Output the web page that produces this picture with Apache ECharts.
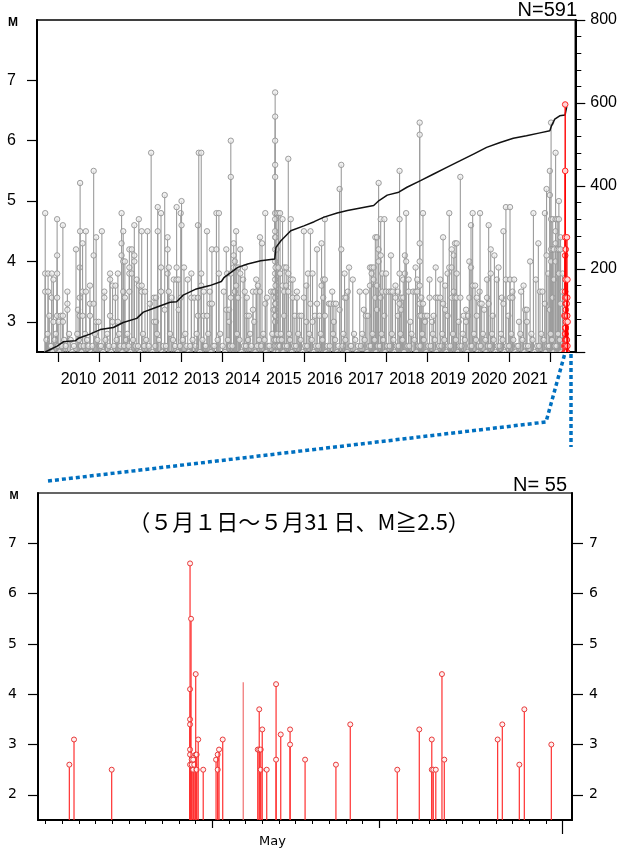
<!DOCTYPE html>
<html>
<head>
<meta charset="utf-8">
<script src="https://cdn.jsdelivr.net/npm/echarts@6/dist/echarts.min.js"></script>
<style>
  html, body { margin: 0; padding: 0; background: #fff; }
  #main { width: 620px; height: 850px; }
</style>
</head>
<body>
<div id="main"></div>
<script>
// ---- axis ticks / labels ----
var yearTicks = [2010, 2011, 2012, 2013, 2014, 2015, 2016, 2017, 2018, 2019, 2020, 2021, 2022];
var yearLabelPos = [2010.5, 2011.5, 2012.5, 2013.5, 2014.5, 2015.5, 2016.5, 2017.5, 2018.5, 2019.5, 2020.5, 2021.5];
var mTicksTop = [3, 4, 5, 6, 7];
var mTicksMay = [2, 3, 4, 5, 6, 7];
var dayMinorTicks = [1, 2, 3, 4, 5, 6, 7, 8, 9, 10, 12, 13, 14, 15, 16, 17, 18, 19, 20, 22, 23, 24, 25, 26, 27, 28, 29, 30, 31];
var dayMajorTicks = [11, 21];
var dayEndTick = [32];
var mayLabelPos = [14.6];

// ---- top chart: stems [decimal year, M, M, ...] (several events at the same time) ----
var stems2009_2013 = [
  [2009.69, 4.8, 3.8, 3.5], [2009.76, 3.8, 3.5], [2009.79, 3.1], [2009.85, 3.8, 3.4], [2009.89, 3.7, 3.0],
  [2009.98, 4.7, 4.1, 3.8, 3.4, 3.1], [2010.02, 3.0], [2010.07, 3.1], [2010.12, 4.6, 3.1, 3.0],
  [2010.23, 3.5, 3.3, 3.2], [2010.44, 4.2], [2010.49, 3.2], [2010.53, 3.9, 3.4, 3.1], [2010.54, 5.3, 4.5],
  [2010.60, 4.3, 3.5, 3.1], [2010.68, 4.5, 3.5], [2010.78, 3.6, 3.3, 3.1], [2010.87, 5.5, 4.1, 3.3],
  [2010.93, 4.4, 3.0], [2010.99, 3.0], [2011.07, 4.5], [2011.13, 3.5, 3.4], [2011.27, 3.8, 3.7, 3.1],
  [2011.33, 3.6, 3.0], [2011.40, 3.6, 3.4], [2011.46, 3.8, 3.0], [2011.55, 4.8, 4.3, 4.1],
  [2011.59, 4.5, 4.0, 3.5], [2011.63, 4.0, 3.4], [2011.74, 4.2, 3.9, 3.8, 3.5], [2011.80, 4.2, 3.8],
  [2011.86, 4.6, 4.1, 4.0], [2011.92, 3.7], [2011.97, 4.7, 3.6], [2012.04, 4.5, 3.6, 3.5], [2012.12, 3.5],
  [2012.18, 4.5], [2012.24, 3.3], [2012.27, 5.8], [2012.34, 3.4, 3.0], [2012.39, 3.4, 3.0],
  [2012.43, 4.9, 4.5], [2012.51, 4.8, 3.9, 3.5], [2012.60, 5.1, 3.2], [2012.67, 4.4, 4.2, 3.8],
  [2012.70, 3.9, 3.5], [2012.77, 3.4], [2012.82, 3.7], [2012.89, 4.9, 3.9, 3.7], [2012.94, 3.7, 3.2],
  [2012.99, 4.8, 3.4], [2013.01, 5.0, 4.6], [2013.07, 3.9], [2013.16, 3.7], [2013.25, 3.8, 3.4],
  [2013.32, 3.4], [2013.41, 4.6, 3.4, 3.1], [2013.43, 5.8], [2013.49, 5.8, 3.8, 3.6], [2013.55, 3.5, 3.1],
  [2013.63, 4.5, 3.1], [2013.70, 3.5, 3.3], [2013.75, 4.2, 3.3], [2013.86, 4.8, 4.2], [2013.92, 4.8, 3.8]
];
var stems2014_2018 = [
  [2014.04, 3.5], [2014.10, 4.2, 3.2], [2014.12, 3.8], [2014.17, 3.2, 3.0], [2014.21, 6.0, 5.4, 3.8, 3.4],
  [2014.28, 4.3, 4.1, 3.9], [2014.31, 4.0, 3.5], [2014.34, 4.5, 3.9, 3.6], [2014.39, 3.9, 3.4],
  [2014.44, 4.2, 3.8], [2014.51, 3.7], [2014.55, 3.9, 3.5], [2014.60, 3.4, 3.1], [2014.65, 3.1],
  [2014.75, 3.5, 3.2], [2014.78, 3.0], [2014.83, 3.7, 3.5], [2014.87, 3.6], [2014.92, 4.4, 3.5],
  [2014.97, 4.3], [2015.05, 4.8, 3.3], [2015.09, 3.4], [2015.19, 3.5], [2015.25, 3.5, 3.2],
  [2015.29, 6.8, 6.4, 6.0, 5.6, 5.4, 4.8, 4.7, 4.5, 4.4, 4.2, 4.0, 3.8, 3.7, 3.5, 3.4, 3.3, 3.2, 3.1, 3.0],
  [2015.30, 4.4, 3.9, 3.6, 3.3, 3.1], [2015.33, 4.8, 4.2], [2015.37, 4.8, 3.9], [2015.41, 4.8, 3.8],
  [2015.47, 4.7, 3.6], [2015.51, 3.9, 3.5, 3.1], [2015.56, 3.9, 3.6], [2015.61, 5.7, 3.8, 3.5],
  [2015.67, 4.7, 3.7], [2015.72, 3.7, 3.4], [2015.77, 3.1], [2015.82, 3.5, 3.4], [2015.88, 3.1],
  [2015.93, 3.1], [2015.99, 4.5, 3.4], [2016.05, 3.6, 3.0], [2016.09, 3.8], [2016.15, 4.5, 3.3],
  [2016.20, 3.8, 3.0], [2016.26, 3.1], [2016.31, 4.2, 3.3], [2016.37, 3.1], [2016.42, 4.3, 3.6],
  [2016.46, 3.7, 3.4], [2016.50, 4.7, 3.7, 3.1], [2016.60, 3.3], [2016.64, 3.3], [2016.68, 3.5],
  [2016.72, 3.3, 3.0], [2016.77, 3.3], [2016.86, 5.2, 3.2], [2016.90, 5.6, 4.2], [2016.98, 3.8, 3.4],
  [2017.02, 3.4], [2017.06, 3.5], [2017.09, 3.9], [2017.18, 3.7], [2017.35, 3.5], [2017.45, 3.2],
  [2017.50, 3.5, 3.1], [2017.55, 3.1], [2017.60, 3.9, 3.6], [2017.64, 3.9, 3.8], [2017.69, 3.9, 3.7],
  [2017.73, 4.4, 3.4], [2017.77, 4.4, 3.6, 3.2], [2017.81, 5.3, 4.2, 4.0], [2017.86, 4.7, 4.1, 3.4],
  [2017.90, 3.8, 3.5], [2017.95, 4.7, 3.1], [2017.99, 3.8, 3.5], [2018.06, 3.5], [2018.11, 4.1, 3.5],
  [2018.15, 3.5]
];
var stems2018_2022 = [
  [2018.22, 3.6, 3.4], [2018.28, 3.5, 3.1], [2018.32, 5.5, 4.7, 3.8, 3.3], [2018.36, 3.4, 3.2],
  [2018.41, 3.7, 3.4], [2018.45, 4.1, 3.8], [2018.48, 4.8, 4.0], [2018.54, 3.7, 3.5], [2018.58, 3.0],
  [2018.65, 3.5], [2018.71, 3.9, 3.5], [2018.75, 3.7, 3.5], [2018.81, 6.3, 6.1, 4.3, 4.0, 3.6, 3.3, 3.1],
  [2018.85, 3.4, 3.1], [2018.89, 4.8, 3.3], [2018.94, 3.1, 3.0], [2018.99, 3.1], [2019.05, 3.7, 3.4],
  [2019.11, 3.0], [2019.15, 3.1], [2019.20, 3.9, 3.4], [2019.25, 3.4], [2019.31, 3.7, 3.4],
  [2019.38, 4.4, 3.3], [2019.43, 3.6, 3.2], [2019.49, 3.8, 3.1], [2019.53, 4.8, 3.9],
  [2019.59, 4.2, 3.9, 3.4], [2019.64, 4.1, 3.5], [2019.67, 4.3, 3.4], [2019.71, 4.3, 3.8, 3.4],
  [2019.76, 3.0], [2019.80, 5.4, 3.4], [2019.88, 3.1], [2019.94, 3.2, 3.0], [2019.99, 3.1],
  [2020.02, 4.0, 3.4], [2020.06, 4.6, 3.9], [2020.10, 4.8, 3.6], [2020.16, 3.6], [2020.20, 3.4, 3.1],
  [2020.27, 3.5], [2020.28, 4.8, 3.3], [2020.32, 3.3], [2020.38, 3.2], [2020.45, 3.7, 3.4],
  [2020.49, 4.6, 3.3], [2020.54, 4.2, 3.8], [2020.59, 3.1], [2020.63, 4.1], [2020.69, 3.7], [2020.73, 3.9],
  [2020.81, 3.4], [2020.85, 4.5, 3.3], [2020.91, 4.9, 3.7], [2020.97, 3.1], [2021.01, 4.9, 3.7, 3.4],
  [2021.07, 3.5, 3.4], [2021.11, 3.7], [2021.23, 3.0], [2021.28, 3.5], [2021.34, 3.6], [2021.38, 3.2],
  [2021.42, 3.2, 3.0], [2021.50, 4.0], [2021.58, 4.8], [2021.64, 3.7], [2021.70, 4.3], [2021.74, 3.5],
  [2021.80, 3.5], [2021.86, 4.8, 3.3], [2021.90, 5.2, 4.1], [2021.94, 3.8], [2021.98, 5.5, 5.1, 3.2],
  [2022.01, 6.3, 4.7, 4.2, 4.0], [2022.05, 4.7, 4.2, 3.4], [2022.08, 4.2, 3.7],
  [2022.12, 5.8, 4.7, 4.5, 4.3, 4.0], [2022.16, 4.7, 4.2], [2022.20, 5.0, 4.7, 4.2, 3.8],
  [2022.24, 4.4, 4.2, 3.3], [2022.29, 3.8, 3.5]
];
// small events (M 2.5-2.8) that make up the grey mass near the bottom
var low2009_2012 = [
  [2009.72, 2.7], [2009.75, 2.8], [2009.81, 2.6], [2009.83, 2.6], [2009.87, 2.5], [2009.92, 2.7], [2009.95, 2.8],
  [2010.00, 2.6], [2010.04, 2.5], [2010.09, 2.6], [2010.15, 2.7], [2010.19, 2.6], [2010.27, 2.8], [2010.31, 2.7],
  [2010.35, 2.5], [2010.39, 2.6], [2010.47, 2.8], [2010.51, 2.7], [2010.56, 2.6], [2010.58, 2.5], [2010.63, 2.6],
  [2010.66, 2.8], [2010.71, 2.7], [2010.74, 2.6], [2010.81, 2.5], [2010.84, 2.6], [2010.90, 2.8], [2010.96, 2.7],
  [2011.02, 2.6], [2011.05, 2.6], [2011.10, 2.5], [2011.16, 2.7], [2011.20, 2.8], [2011.24, 2.6], [2011.30, 2.5],
  [2011.36, 2.6], [2011.43, 2.7], [2011.49, 2.8], [2011.52, 2.6], [2011.57, 2.5], [2011.61, 2.6], [2011.66, 2.7],
  [2011.69, 2.8], [2011.72, 2.6], [2011.77, 2.5], [2011.83, 2.7], [2011.89, 2.6], [2011.95, 2.6], [2012.00, 2.5],
  [2012.07, 2.8], [2012.10, 2.6], [2012.15, 2.7], [2012.21, 2.6], [2012.30, 2.5], [2012.37, 2.6], [2012.41, 2.8],
  [2012.46, 2.7], [2012.54, 2.5], [2012.57, 2.6], [2012.63, 2.6], [2012.73, 2.8], [2012.80, 2.7], [2012.85, 2.6],
  [2012.92, 2.5], [2012.97, 2.6]
];
var low2013_2015 = [
  [2013.04, 2.7], [2013.10, 2.8], [2013.13, 2.6], [2013.19, 2.5], [2013.22, 2.6], [2013.28, 2.7], [2013.35, 2.6],
  [2013.38, 2.8], [2013.46, 2.5], [2013.52, 2.7], [2013.58, 2.6], [2013.60, 2.6], [2013.66, 2.8], [2013.73, 2.5],
  [2013.78, 2.6], [2013.81, 2.6], [2013.89, 2.7], [2013.95, 2.8], [2014.01, 2.6], [2014.07, 2.5], [2014.14, 2.7],
  [2014.19, 2.6], [2014.25, 2.6], [2014.36, 2.8], [2014.42, 2.7], [2014.47, 2.5], [2014.53, 2.6], [2014.58, 2.6],
  [2014.63, 2.7], [2014.68, 2.8], [2014.71, 2.6], [2014.81, 2.5], [2014.85, 2.6], [2014.90, 2.7], [2014.95, 2.6],
  [2015.00, 2.8], [2015.03, 2.7], [2015.07, 2.5], [2015.12, 2.6], [2015.15, 2.6], [2015.22, 2.8], [2015.27, 2.7],
  [2015.28, 2.6], [2015.30, 2.5], [2015.31, 2.7], [2015.32, 2.6], [2015.34, 2.8], [2015.35, 2.6], [2015.36, 2.5],
  [2015.38, 2.7], [2015.39, 2.6], [2015.40, 2.6], [2015.43, 2.8], [2015.45, 2.7], [2015.49, 2.5], [2015.53, 2.6],
  [2015.58, 2.6], [2015.63, 2.8], [2015.65, 2.7], [2015.70, 2.5], [2015.75, 2.6], [2015.80, 2.6], [2015.85, 2.8],
  [2015.91, 2.7], [2015.96, 2.5]
];
var low2016_2018 = [
  [2016.02, 2.6], [2016.07, 2.6], [2016.12, 2.8], [2016.18, 2.7], [2016.23, 2.5], [2016.28, 2.6], [2016.34, 2.6],
  [2016.40, 2.8], [2016.44, 2.7], [2016.53, 2.5], [2016.56, 2.6], [2016.62, 2.6], [2016.70, 2.8], [2016.75, 2.7],
  [2016.80, 2.5], [2016.83, 2.6], [2016.93, 2.6], [2016.95, 2.8], [2017.00, 2.7], [2017.04, 2.5], [2017.12, 2.6],
  [2017.14, 2.6], [2017.21, 2.8], [2017.24, 2.7], [2017.28, 2.5], [2017.31, 2.6], [2017.38, 2.6], [2017.41, 2.8],
  [2017.47, 2.7], [2017.53, 2.5], [2017.58, 2.6], [2017.62, 2.6], [2017.66, 2.8], [2017.71, 2.7], [2017.75, 2.5],
  [2017.79, 2.6], [2017.84, 2.6], [2017.88, 2.8], [2017.92, 2.7], [2017.97, 2.5], [2018.02, 2.6], [2018.08, 2.6],
  [2018.13, 2.8], [2018.17, 2.7], [2018.20, 2.5], [2018.25, 2.6], [2018.30, 2.6], [2018.34, 2.8], [2018.39, 2.7],
  [2018.43, 2.5], [2018.51, 2.6], [2018.56, 2.6], [2018.61, 2.8], [2018.68, 2.7], [2018.73, 2.5], [2018.78, 2.6],
  [2018.83, 2.6], [2018.87, 2.8], [2018.91, 2.7], [2018.97, 2.5]
];
var low2019_2022 = [
  [2019.02, 2.6], [2019.08, 2.6], [2019.13, 2.8], [2019.18, 2.7], [2019.22, 2.5], [2019.28, 2.6], [2019.34, 2.6],
  [2019.36, 2.8], [2019.41, 2.7], [2019.46, 2.5], [2019.51, 2.6], [2019.56, 2.6], [2019.62, 2.8], [2019.69, 2.7],
  [2019.74, 2.5], [2019.78, 2.6], [2019.83, 2.6], [2019.86, 2.8], [2019.91, 2.7], [2019.97, 2.5], [2020.04, 2.6],
  [2020.08, 2.6], [2020.13, 2.8], [2020.18, 2.7], [2020.23, 2.5], [2020.25, 2.6], [2020.30, 2.6], [2020.35, 2.8],
  [2020.41, 2.7], [2020.43, 2.5], [2020.47, 2.6], [2020.52, 2.6], [2020.57, 2.8], [2020.61, 2.7], [2020.66, 2.5],
  [2020.71, 2.6], [2020.76, 2.6], [2020.79, 2.8], [2020.83, 2.7], [2020.88, 2.5], [2020.93, 2.6], [2020.99, 2.6],
  [2021.04, 2.8], [2021.09, 2.7], [2021.14, 2.5], [2021.18, 2.6], [2021.21, 2.6], [2021.26, 2.8], [2021.31, 2.7],
  [2021.36, 2.5], [2021.40, 2.6], [2021.45, 2.6], [2021.53, 2.8], [2021.56, 2.7], [2021.61, 2.5], [2021.67, 2.6],
  [2021.72, 2.6], [2021.77, 2.8], [2021.83, 2.7], [2021.88, 2.5], [2021.92, 2.6], [2021.96, 2.6], [2022.00, 2.8],
  [2022.03, 2.7], [2022.07, 2.5], [2022.10, 2.6], [2022.14, 2.6], [2022.18, 2.8], [2022.22, 2.7], [2022.26, 2.5],
  [2022.31, 2.6]
];

// cumulative number of events (right axis)
var cumYears = [2009.69, 2009.98, 2010.14, 2010.42, 2010.50, 2010.78, 2011.03, 2011.35, 2011.59, 2011.92,
  2012.08, 2012.40, 2012.73, 2012.89, 2013.05, 2013.37, 2013.70, 2013.98, 2014.05, 2014.38, 2014.62, 2014.94,
  2015.28, 2015.31, 2015.43, 2015.67, 2015.99, 2016.24, 2016.48, 2016.80, 2017.05, 2017.37, 2017.69, 2017.82,
  2018.02, 2018.30, 2018.50, 2018.83, 2019.15, 2019.47, 2019.80, 2020.12, 2020.44, 2020.77, 2021.09, 2021.41,
  2021.74, 2021.98, 2022.02, 2022.10, 2022.22, 2022.35, 2022.39];
var cumCounts = [0, 14, 25, 27, 33, 43, 54, 59, 71, 81,
  96, 108, 120, 121, 137, 152, 160, 170, 180, 204, 212, 220,
  224, 252, 268, 292, 304, 314, 325, 335, 341, 347, 353, 365,
  378, 385, 397, 413, 429, 445, 461, 477, 493, 505, 515, 521,
  528, 533, 545, 561, 569, 571, 591];

// ---- bottom chart: May events (x = day position on the axis) ----
var mayDays = [2.42, 2.70, 4.96,
  9.66, 9.66, 9.66, 9.66, 9.66, 9.66, 9.66, 9.72, 9.76, 9.76, 9.85, 9.85, 9.91, 10.00, 10.00, 10.06, 10.06, 10.15,
  10.45, 11.22, 11.32, 11.32, 11.40, 11.62,
  13.72, 13.81, 13.81, 13.90, 13.90, 13.99, 14.26,
  14.82, 14.82, 15.10, 15.66, 15.66, 16.56,
  18.41, 19.27, 22.09, 23.41,
  24.16, 24.16, 24.25, 24.40, 24.77, 24.91,
  28.11, 28.39, 29.41, 29.71, 31.33];
var mayMags = [2.6, 3.1, 2.5,
  6.6, 4.1, 3.5, 3.4, 2.9, 2.8, 2.6, 5.5, 2.7, 2.6, 2.7, 2.5, 2.6, 4.4, 2.8, 2.8, 2.5, 3.1,
  2.5, 2.7, 2.8, 2.5, 2.9, 3.1,
  2.9, 3.7, 2.9, 2.9, 2.5, 3.3, 2.5,
  4.2, 2.7, 3.2, 3.3, 3.0, 2.7,
  2.6, 3.4, 2.5, 3.3,
  3.1, 2.5, 2.5, 2.5, 4.4, 2.7,
  3.1, 3.4, 2.6, 3.7, 3.0];
var mayUnmarked = [[12.85, 4.24]]; // line without a circle

// ---------------------------------------------------------------
function flatStems(list) {
  var out = [];
  list.forEach(function (s) {
    for (var i = 1; i < s.length; i++) out.push([s[0], s[i]]);
  });
  return out;
}

var greyData = flatStems(stems2009_2013)
  .concat(flatStems(stems2014_2018))
  .concat(flatStems(stems2018_2022))
  .concat(low2009_2012, low2013_2015, low2016_2018, low2019_2022);

// May events placed on the long time axis
var redTopData = mayDays.map(function (d, i) {
  return [2022.33 + (d - 1) / 365, mayMags[i]];
});
var mayData = mayDays.map(function (d, i) { return [d, mayMags[i]]; });
var cumData = cumYears.map(function (y, i) { return [y, cumCounts[i]]; });

// stem + small circle at the top
function stemRenderer(base, lineColor, lineWidth, circleStroke, circleFill, r, circleWidth) {
  return function (params, api) {
    var t = api.value(0), m = api.value(1);
    var top = api.coord([t, m]);
    var bot = api.coord([t, base]);
    var children = [{
      type: 'line',
      shape: { x1: top[0], y1: top[1], x2: bot[0], y2: bot[1] },
      style: { stroke: lineColor, lineWidth: lineWidth }
    }];
    if (r > 0) {
      children.push({
        type: 'circle',
        shape: { cx: top[0], cy: top[1], r: r },
        style: { stroke: circleStroke, fill: circleFill, lineWidth: circleWidth || 1 }
      });
    }
    return { type: 'group', children: children };
  };
}

var chart = echarts.init(document.getElementById('main'), null, { renderer: 'canvas' });

var axisFontTop = { color: '#000', fontSize: 16, fontFamily: 'Liberation Sans' };
var axisFontMay = { color: '#000', fontSize: 14, fontFamily: 'DejaVu Sans' };

var option = {
  animation: false,
  backgroundColor: '#fff',
  grid: [
    { left: 37, top: 20, width: 540, height: 332, show: true, borderColor: '#000', borderWidth: 1.5, backgroundColor: 'transparent' },
    { left: 38, top: 493, width: 534, height: 327, show: true, borderColor: '#333', borderWidth: 1.5, backgroundColor: 'transparent' }
  ],
  xAxis: [
    {
      gridIndex: 0, type: 'value', min: 2009.49, max: 2022.6, position: 'bottom',
      axisLine: { show: true, onZero: false, lineStyle: { color: '#000', width: 2 } },
      axisTick: { show: true, customValues: yearTicks, length: 10, lineStyle: { color: '#000', width: 1.2 } },
      axisLabel: Object.assign({ customValues: yearLabelPos, margin: 20,
        formatter: function (v) { return String(Math.floor(v)); } }, axisFontTop),
      splitLine: { show: false }
    },
    {
      gridIndex: 1, type: 'value', min: 0.54, max: 32.57, position: 'bottom',
      axisLine: { show: true, onZero: false, lineStyle: { color: '#000', width: 2 } },
      axisTick: { show: true, customValues: dayMinorTicks, length: 4, lineStyle: { color: '#000', width: 1 } },
      axisLabel: { customValues: mayLabelPos, margin: 15, fontSize: 13, color: '#000', fontFamily: 'DejaVu Sans',
        formatter: function () { return 'May'; } },
      splitLine: { show: false }
    },
    {
      gridIndex: 1, type: 'value', min: 0.54, max: 32.57, position: 'bottom',
      axisLine: { show: false },
      axisTick: { show: true, customValues: dayMajorTicks, length: 8, lineStyle: { color: '#000', width: 1.2 } },
      axisLabel: { show: false },
      splitLine: { show: false }
    },
    {
      gridIndex: 1, type: 'value', min: 0.54, max: 32.57, position: 'bottom',
      axisLine: { show: false },
      axisTick: { show: true, customValues: dayEndTick, length: 14, lineStyle: { color: '#000', width: 1.2 } },
      axisLabel: { show: false },
      splitLine: { show: false }
    }
  ],
  yAxis: [
    {
      gridIndex: 0, type: 'value', min: 2.5, max: 8, position: 'left',
      axisLine: { show: true, onZero: false, lineStyle: { color: '#000', width: 2 } },
      axisTick: { show: true, customValues: mTicksTop, length: 10, lineStyle: { color: '#000', width: 1.2 } },
      axisLabel: Object.assign({ customValues: mTicksTop, margin: 21 }, axisFontTop),
      splitLine: { show: false }
    },
    {
      gridIndex: 0, type: 'value', min: 0, max: 800, interval: 200, position: 'right',
      axisLine: { show: true, onZero: false, lineStyle: { color: '#000', width: 2 } },
      axisTick: { show: true, length: 10, lineStyle: { color: '#000', width: 1.2 } },
      minorTick: { show: true, splitNumber: 5, length: 6, lineStyle: { color: '#000', width: 1 } },
      axisLabel: Object.assign({ margin: 15,
        formatter: function (v) { return v === 0 ? '' : String(v); } }, axisFontTop),
      splitLine: { show: false },
      minorSplitLine: { show: false }
    },
    {
      gridIndex: 1, type: 'value', min: 1.5, max: 8, position: 'left',
      axisLine: { show: true, onZero: false, lineStyle: { color: '#000', width: 2 } },
      axisTick: { show: true, customValues: mTicksMay, length: 10, lineStyle: { color: '#000', width: 1.2 } },
      axisLabel: Object.assign({ customValues: mTicksMay, margin: 21 }, axisFontMay),
      splitLine: { show: false }
    },
    {
      gridIndex: 1, type: 'value', min: 1.5, max: 8, position: 'right',
      axisLine: { show: true, onZero: false, lineStyle: { color: '#000', width: 2 } },
      axisTick: { show: true, customValues: mTicksMay, length: 11, lineStyle: { color: '#000', width: 1.2 } },
      axisLabel: Object.assign({ customValues: mTicksMay, margin: 17 }, axisFontMay),
      splitLine: { show: false }
    }
  ],
  series: [
    {
      name: 'grey', type: 'custom', xAxisIndex: 0, yAxisIndex: 0, z: 2, clip: true,
      data: greyData, encode: { x: 0, y: 1 },
      renderItem: stemRenderer(2.5, '#9c9c9c', 1.1, '#939393', 'rgba(236,236,236,0.7)', 2.7, 0.9)
    },
    {
      name: 'cum', type: 'line', xAxisIndex: 0, yAxisIndex: 1, z: 3,
      data: cumData, showSymbol: false, symbol: 'none',
      lineStyle: { color: '#111', width: 1.5 }
    },
    {
      name: 'redTop', type: 'custom', xAxisIndex: 0, yAxisIndex: 0, z: 4, clip: true,
      data: redTopData, encode: { x: 0, y: 1 },
      renderItem: stemRenderer(2.5, '#ff0000', 1.4, '#ff2020', '#ffd6d6', 2.8)
    },
    {
      name: 'may', type: 'custom', xAxisIndex: 1, yAxisIndex: 2, z: 4, clip: true,
      data: mayData, encode: { x: 0, y: 1 },
      renderItem: stemRenderer(1.5, '#ff3030', 1.2, '#e83a3a', '#fff0f0', 2.5)
    },
    {
      name: 'mayNoMark', type: 'custom', xAxisIndex: 1, yAxisIndex: 2, z: 3, clip: true,
      data: mayUnmarked, encode: { x: 0, y: 1 },
      renderItem: stemRenderer(1.5, '#f07070', 1.2, null, null, 0)
    }
  ],
  graphic: [
    { type: 'text', x: 13, y: 23, style: { text: 'M', font: 'bold 12px "Liberation Sans"', fill: '#000', align: 'center', verticalAlign: 'middle' } },
    { type: 'text', x: 577, y: 10, style: { text: 'N=591', font: '20px "Liberation Sans"', fill: '#000', align: 'right', verticalAlign: 'middle' } },
    { type: 'text', x: 14, y: 496, style: { text: 'M', font: 'bold 11px "Liberation Sans"', fill: '#000', align: 'center', verticalAlign: 'middle' } },
    { type: 'text', x: 567, y: 485, style: { text: 'N= 55', font: '20px "Liberation Sans"', fill: '#000', align: 'right', verticalAlign: 'middle' } },
    { type: 'text', x: 299, y: 522, style: { text: '（５月１日～５月31 日、M≧2.5）', font: '22px "Noto Sans CJK JP"', fill: '#000', align: 'center', verticalAlign: 'middle' } },
    // zoom guide (blue dotted)
    { type: 'polyline', z: 10, shape: { points: [[48, 481], [546, 422], [565, 353]] },
      style: { stroke: '#0070c0', lineWidth: 3.5, lineDash: [4, 3], fill: null } },
    { type: 'polyline', z: 10, shape: { points: [[571, 354], [571, 447]] },
      style: { stroke: '#0070c0', lineWidth: 3.5, lineDash: [4, 3], fill: null } }
  ]
};

chart.setOption(option);
</script>
</body>
</html>
